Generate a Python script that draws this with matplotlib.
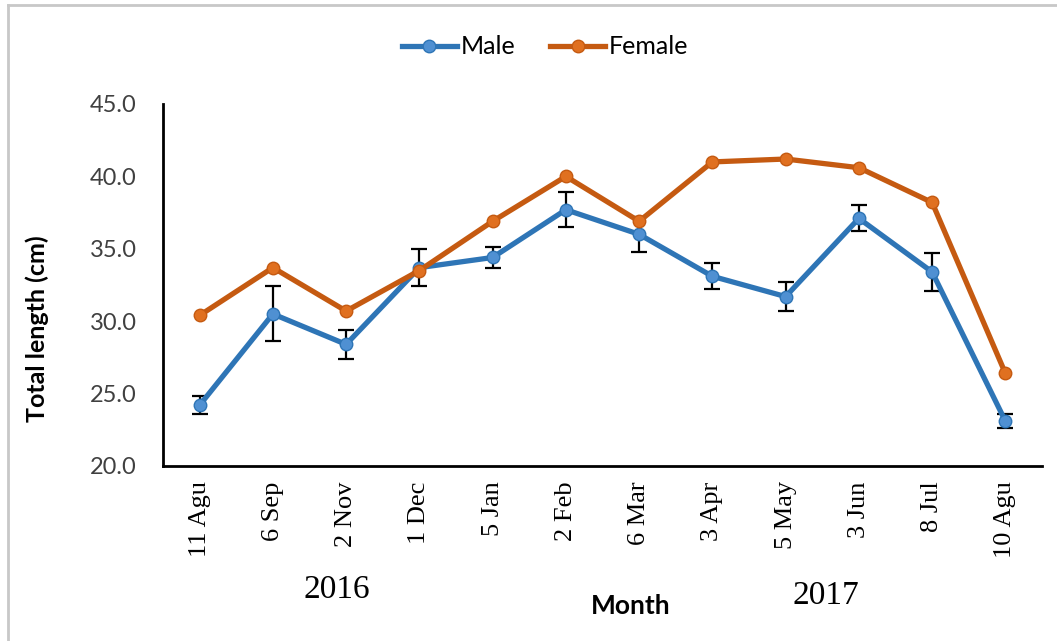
import matplotlib
matplotlib.use("Agg")
import matplotlib.pyplot as plt
from matplotlib.lines import Line2D
import numpy as np

# data
months = ["11 Agu", "6 Sep", "2 Nov", "1 Dec", "5 Jan", "2 Feb", "6 Mar",
          "3 Apr", "5 May", "3 Jun", "8 Jul", "10 Agu"]
male = [24.2, 30.5, 28.4, 33.7, 34.4, 37.7, 36.0, 33.1, 31.7, 37.1, 33.4, 23.1]
male_err = [0.6, 1.9, 1.0, 1.3, 0.7, 1.2, 1.2, 0.9, 1.0, 0.9, 1.3, 0.5]
female = [30.4, 33.7, 30.7, 33.5, 36.9, 40.0, 36.9, 41.0, 41.2, 40.6, 38.2, 26.4]
years = ["2016", "2017"]
yticks = [20, 25, 30, 35, 40, 45]

W, H = 1057, 641
fig = plt.figure(figsize=(W / 100, H / 100), dpi=100)
ax = fig.add_axes([163 / W, 1 - 466 / H, (1042 - 163) / W, (466 - 104) / H])

x = np.arange(len(months))

# male line with error bars
ax.errorbar(x, male, yerr=male_err, fmt='none', ecolor='black', elinewidth=1.6,
            capsize=5.5, capthick=1.6, zorder=3)
ax.plot(x, male, color='#2e75b6', lw=3.8, marker='o', ms=9,
        mfc='#4f90d2', mec='#2e75b6', label='Male', zorder=4)
ax.plot(x, female, color='#c55a11', lw=3.8, marker='o', ms=9,
        mfc='#e07020', mec='#c55a11', label='Female', zorder=5)

ax.set_xlim(-0.5, len(months) - 0.5)
ax.set_ylim(20, 45)
ax.set_yticks(yticks)
ax.set_yticklabels([f"{v:.1f}" for v in yticks], family='Lato', fontsize=17,
                   color='#404040')
ax.set_xticks(x)
ax.set_xticklabels(months, rotation=90, family='Liberation Serif', fontsize=19,
                   va='top')
ax.tick_params(axis='both', length=0)
ax.tick_params(axis='y', pad=19)
ax.tick_params(axis='x', pad=11)

for s in ['top', 'right']:
    ax.spines[s].set_visible(False)
for s in ['left', 'bottom']:
    ax.spines[s].set_linewidth(2)
    ax.spines[s].set_color('black')

# legend on top
leg = fig.legend(loc='center', bbox_to_anchor=(545 / W, 1 - 47 / H), ncol=2,
                 frameon=False, prop={'family': 'Lato', 'size': 18},
                 handlelength=2.2, handletextpad=0.15, columnspacing=1.4)

# axis labels and year labels
fig.text(37 / W, 1 - 329 / H, "Total length (cm)", rotation=90, ha='center',
         va='center', family='Lato', fontweight='bold', fontsize=18)
fig.text(631 / W, 1 - 606 / H, "Month", ha='center', va='center',
         family='Lato', fontweight='bold', fontsize=19)
fig.text(337 / W, 1 - 590 / H, years[0], ha='center', va='center',
         family='Liberation Serif', fontsize=24)
fig.text(826 / W, 1 - 596 / H, years[1], ha='center', va='center',
         family='Liberation Serif', fontsize=24)

# light grey frame at top and left
fig.add_artist(Line2D([8 / W, 1], [1 - 5 / H, 1 - 5 / H], color='#c8c8c8', lw=2,
                      transform=fig.transFigure))
fig.add_artist(Line2D([8 / W, 8 / W], [0, 1 - 5 / H], color='#c8c8c8', lw=2,
                      transform=fig.transFigure))

fig.savefig("out.png", dpi=100)
